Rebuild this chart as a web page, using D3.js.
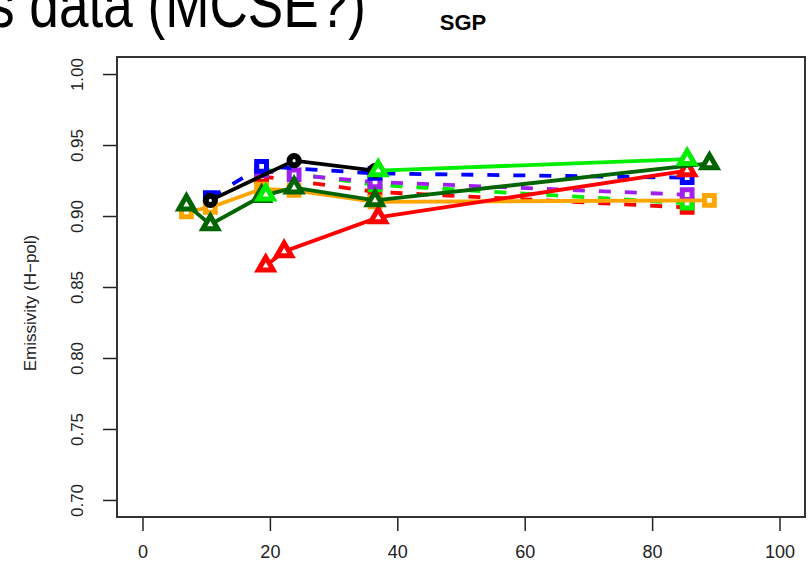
<!DOCTYPE html>
<html>
<head>
<meta charset="utf-8">
<script src="https://cdn.jsdelivr.net/npm/d3@7"></script>
<style>
  html, body { margin: 0; padding: 0; background: #fff; overflow: hidden; }
  svg { display: block; }
  text { font-family: "Liberation Sans", Arial, sans-serif; }
</style>
</head>
<body>
<svg id="chart" width="810" height="564"></svg>
<script>
// Frequency (GHz) on x, emissivity on y; null breaks a line
const xTicks = [0, 20, 40, 60, 80, 100];
const yTicks = [0.70, 0.75, 0.80, 0.85, 0.90, 0.95, 1.00];

const redDashFreq = [18.7, 36.5, 85.5];
const redDashVals = [0.928, 0.917, 0.906];

const greenDashFreq = [18.7, 36.5, 85.5];
const greenDashVals = [0.933, 0.922, 0.909];

const purpleFreq = [18.7, 23.8, 36.5, 85.5];
const purpleVals = [0.932, 0.929, 0.924, 0.915];

const blueFreq = [10.65, 18.7, 36.5, 85.5];
const blueVals = [0.913, 0.935, 0.930, 0.927];

const orangeFreq = [6.9, 10.65, 18.7, 23.8, 36.5, 89.0];
const orangeVals = [0.903, 0.906, 0.919, 0.918, 0.910, 0.911];

const blackFreq = [10.65, 23.8, 36.5];
const blackVals = [0.911, 0.939, 0.932];

const redFreq = [19.35, 22.235, 37.0, 85.5];
const redVals = [0.865, 0.875, 0.899, 0.932];

const darkGreenFreq = [6.9, 10.65, 18.7, 23.8, 36.5, 89.0];
const darkGreenVals = [0.908, 0.894, 0.914, 0.920, 0.911, 0.937];

const limeFreq = [19.35, 22.235, 37.0, 85.5];
const limeVals = [0.915, null, 0.932, 0.940];

const series = [
  { freq: redDashFreq,   vals: redDashVals,   color: "#ff0000", dash: "12,14", shape: "square" },
  { freq: greenDashFreq, vals: greenDashVals, color: "#00ee00", dash: "12,14", shape: "square" },
  { freq: purpleFreq,    vals: purpleVals,    color: "#a020f0", dash: "12,14", shape: "square" },
  { freq: blueFreq,      vals: blueVals,      color: "#0000ff", dash: "12,14", shape: "square" },
  { freq: orangeFreq,    vals: orangeVals,    color: "#ffa500", dash: null,    shape: "square" },
  { freq: blackFreq,     vals: blackVals,     color: "#000000", dash: null,    shape: "circle" },
  { freq: redFreq,       vals: redVals,       color: "#ff0000", dash: null,    shape: "triangle" },
  { freq: darkGreenFreq, vals: darkGreenVals, color: "#006400", dash: null,    shape: "triangle" },
  { freq: limeFreq,      vals: limeVals,      color: "#00ee00", dash: null,    shape: "triangle" }
];

const box = { left: 117, right: 805, top: 57, bottom: 517 };

const x = d3.scaleLinear().domain([-4, 104]).range([box.left, box.right]);
const y = d3.scaleLinear().domain([0.688, 1.012]).range([box.bottom, box.top]);

const svg = d3.select("#chart");

// slide heading running off the top edge
svg.append("text")
  .attr("x", -12).attr("y", 27)
  .attr("font-family", "'Open Sans', sans-serif")
  .attr("font-size", 64)
  .attr("textLength", 378)
  .attr("lengthAdjust", "spacingAndGlyphs")
  .attr("fill", "#000")
  .text("s data (MCSE?)");

// plot title
svg.append("text")
  .attr("x", (box.left + box.right) / 2 + 2).attr("y", 30)
  .attr("text-anchor", "middle")
  .attr("font-size", 22).attr("font-weight", "bold")
  .text("SGP");

// axes
const xAxis = d3.axisBottom(x).tickValues(xTicks).tickSize(14).tickPadding(14);
const gx = svg.append("g").attr("transform", `translate(0,${box.bottom})`).call(xAxis);
gx.select(".domain").remove();
gx.selectAll("line").attr("stroke", "#222").attr("stroke-width", 1.5);
gx.selectAll("text").attr("font-size", 18).attr("fill", "#222")
  .attr("font-family", "'Liberation Sans', Arial, sans-serif");

const yAxis = d3.axisLeft(y).tickValues(yTicks).tickSize(14).tickFormat(d3.format(".2f"));
const gy = svg.append("g").attr("transform", `translate(${box.left},0)`).call(yAxis);
gy.select(".domain").remove();
gy.selectAll("line").attr("stroke", "#222").attr("stroke-width", 1.5);
gy.selectAll("text")
  .attr("font-size", 17).attr("fill", "#222")
  .attr("font-family", "'Liberation Sans', Arial, sans-serif")
  .attr("text-anchor", "middle")
  .attr("dy", null)
  .attr("x", null)
  .attr("transform", "translate(-38,0) rotate(-90)")
  .attr("dominant-baseline", "middle");

// y axis title
svg.append("text")
  .attr("transform", `translate(32,${(box.top + box.bottom) / 2 + 16}) rotate(-90)`)
  .attr("text-anchor", "middle")
  .attr("dominant-baseline", "middle")
  .attr("font-size", 17).attr("fill", "#222")
  .text("Emissivity (H\u2212pol)");

// frame
svg.append("rect")
  .attr("x", box.left).attr("y", box.top)
  .attr("width", box.right - box.left).attr("height", box.bottom - box.top)
  .attr("fill", "none").attr("stroke", "#333").attr("stroke-width", 2);

const plot = svg.append("g");

const line = d3.line()
  .defined(d => d.v != null)
  .x(d => x(d.f)).y(d => y(d.v));

function markerPath(shape) {
  if (shape === "square") return d3.symbol(d3.symbolSquare, 95)();
  if (shape === "circle") return d3.symbol(d3.symbolCircle, 65)();
  return d3.symbol(d3.symbolTriangle, 95)();
}

series.forEach(s => {
  const pts = s.freq.map((f, i) => ({ f, v: s.vals[i] }));
  plot.append("path")
    .datum(pts)
    .attr("d", line)
    .attr("fill", "none")
    .attr("stroke", s.color)
    .attr("stroke-width", 3.8)
    .attr("stroke-dasharray", s.dash);
  plot.selectAll(null)
    .data(pts.filter(d => d.v != null))
    .join("path")
    .attr("transform", d => `translate(${x(d.f)},${y(d.v)})`)
    .attr("d", markerPath(s.shape))
    .attr("fill", "#fff")
    .attr("stroke", s.color)
    .attr("stroke-width", s.shape === "circle" ? 6 : 5);
});
</script>
</body>
</html>
